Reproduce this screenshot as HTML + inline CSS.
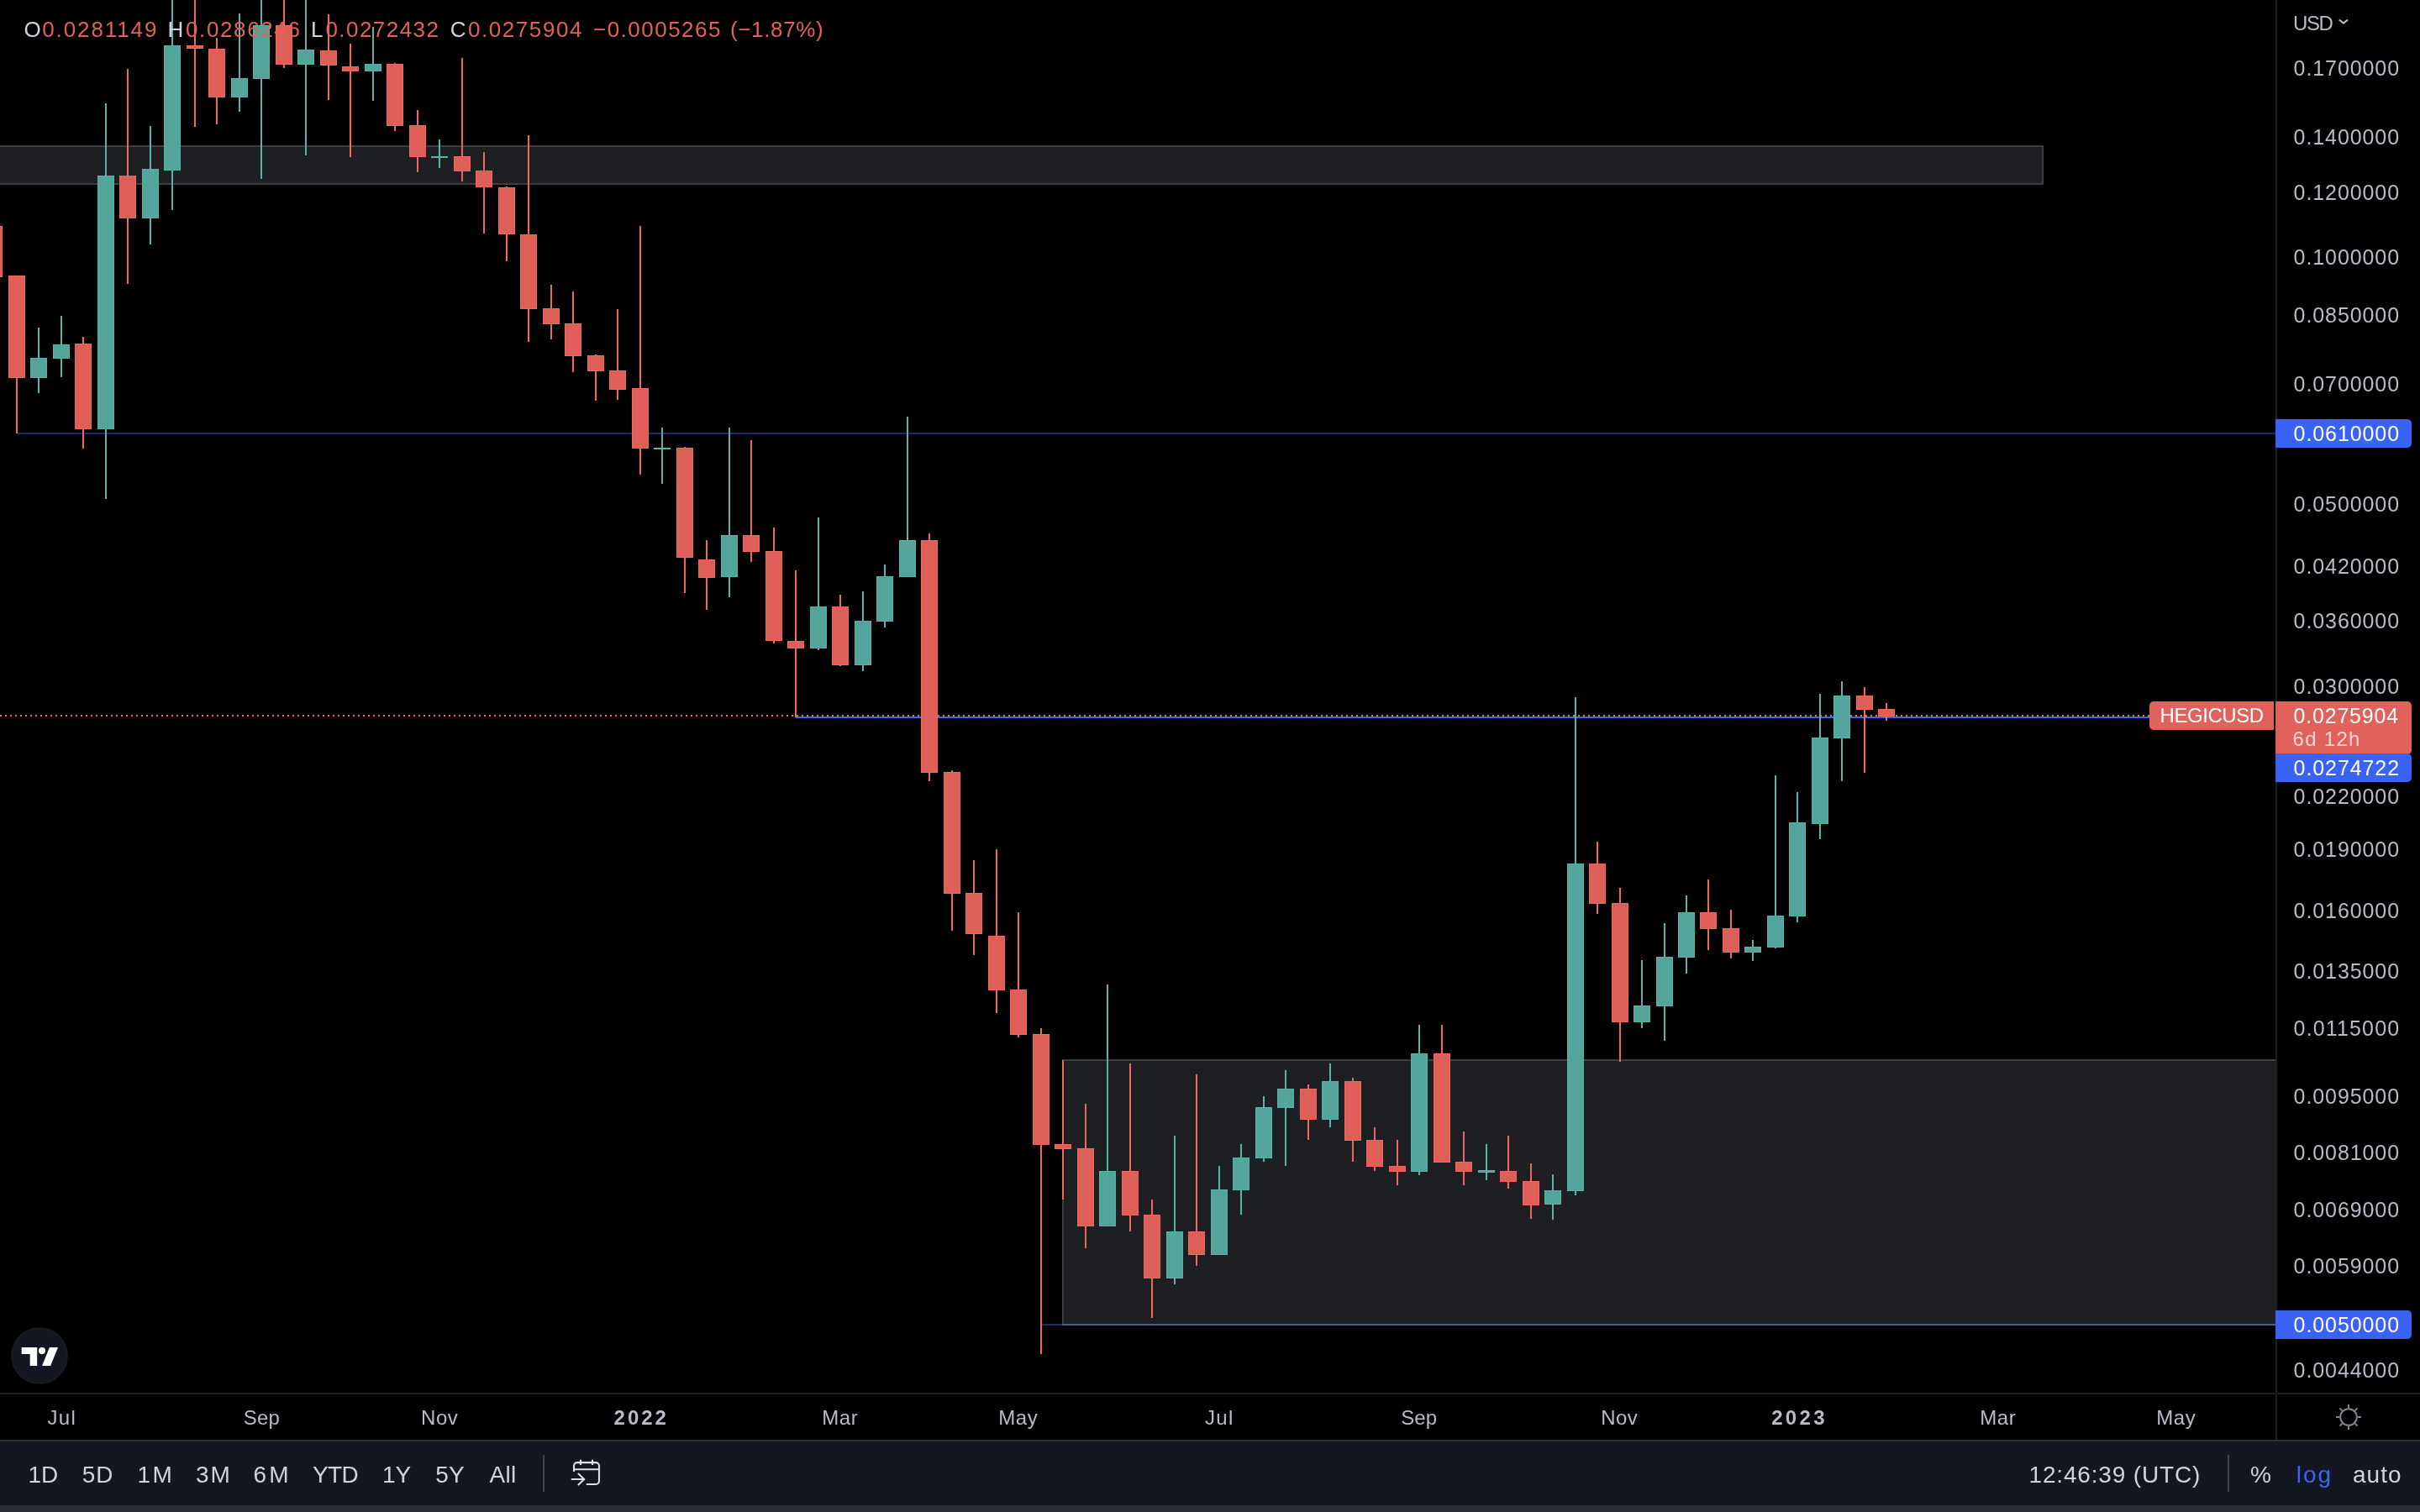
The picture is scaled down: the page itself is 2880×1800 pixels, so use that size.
<!DOCTYPE html>
<html><head><meta charset="utf-8"><title>HEGICUSD</title>
<style>
*{margin:0;padding:0;box-sizing:border-box}
html,body{width:2880px;height:1800px;background:#000;overflow:hidden;font-family:"Liberation Sans",sans-serif}
svg{position:absolute;display:block}
.t{position:absolute;white-space:nowrap;font-family:"Liberation Sans",sans-serif}
.box{position:absolute}
</style></head><body>
<svg style="left:0;top:0" width="2880" height="1800" viewBox="0 0 2880 1800" shape-rendering="crispEdges">
<rect x="0" y="0" width="2880" height="1800" fill="#000"/>
<!-- upper band -->
<rect x="0" y="173" width="2432" height="47" fill="#3d3e42"/>
<rect x="0" y="175" width="2430" height="43" fill="#1e1f22"/>
<!-- lower box -->
<rect x="1264" y="1261" width="1444" height="317" fill="#3d3e42"/>
<rect x="1266" y="1263" width="1442" height="313" fill="#1e1f22"/>
<!-- lines -->
<rect x="20" y="515" width="2688" height="2" fill="#1b2a73"/>
<rect x="1239" y="1576" width="25" height="2" fill="#1b2a73"/>
<rect x="1264" y="1576" width="1444" height="2" fill="#4f5c92"/>
<g fill="#f4685f"><rect x="0" y="851" width="2" height="2"/><rect x="6" y="851" width="2" height="2"/><rect x="12" y="851" width="2" height="2"/><rect x="18" y="851" width="2" height="2"/><rect x="24" y="851" width="2" height="2"/><rect x="30" y="851" width="2" height="2"/><rect x="36" y="851" width="2" height="2"/><rect x="42" y="851" width="2" height="2"/><rect x="48" y="851" width="2" height="2"/><rect x="54" y="851" width="2" height="2"/><rect x="60" y="851" width="2" height="2"/><rect x="66" y="851" width="2" height="2"/><rect x="72" y="851" width="2" height="2"/><rect x="78" y="851" width="2" height="2"/><rect x="84" y="851" width="2" height="2"/><rect x="90" y="851" width="2" height="2"/><rect x="96" y="851" width="2" height="2"/><rect x="102" y="851" width="2" height="2"/><rect x="108" y="851" width="2" height="2"/><rect x="114" y="851" width="2" height="2"/><rect x="120" y="851" width="2" height="2"/><rect x="126" y="851" width="2" height="2"/><rect x="132" y="851" width="2" height="2"/><rect x="138" y="851" width="2" height="2"/><rect x="144" y="851" width="2" height="2"/><rect x="150" y="851" width="2" height="2"/><rect x="156" y="851" width="2" height="2"/><rect x="162" y="851" width="2" height="2"/><rect x="168" y="851" width="2" height="2"/><rect x="174" y="851" width="2" height="2"/><rect x="180" y="851" width="2" height="2"/><rect x="186" y="851" width="2" height="2"/><rect x="192" y="851" width="2" height="2"/><rect x="198" y="851" width="2" height="2"/><rect x="204" y="851" width="2" height="2"/><rect x="210" y="851" width="2" height="2"/><rect x="216" y="851" width="2" height="2"/><rect x="222" y="851" width="2" height="2"/><rect x="228" y="851" width="2" height="2"/><rect x="234" y="851" width="2" height="2"/><rect x="240" y="851" width="2" height="2"/><rect x="246" y="851" width="2" height="2"/><rect x="252" y="851" width="2" height="2"/><rect x="258" y="851" width="2" height="2"/><rect x="264" y="851" width="2" height="2"/><rect x="270" y="851" width="2" height="2"/><rect x="276" y="851" width="2" height="2"/><rect x="282" y="851" width="2" height="2"/><rect x="288" y="851" width="2" height="2"/><rect x="294" y="851" width="2" height="2"/><rect x="300" y="851" width="2" height="2"/><rect x="306" y="851" width="2" height="2"/><rect x="312" y="851" width="2" height="2"/><rect x="318" y="851" width="2" height="2"/><rect x="324" y="851" width="2" height="2"/><rect x="330" y="851" width="2" height="2"/><rect x="336" y="851" width="2" height="2"/><rect x="342" y="851" width="2" height="2"/><rect x="348" y="851" width="2" height="2"/><rect x="354" y="851" width="2" height="2"/><rect x="360" y="851" width="2" height="2"/><rect x="366" y="851" width="2" height="2"/><rect x="372" y="851" width="2" height="2"/><rect x="378" y="851" width="2" height="2"/><rect x="384" y="851" width="2" height="2"/><rect x="390" y="851" width="2" height="2"/><rect x="396" y="851" width="2" height="2"/><rect x="402" y="851" width="2" height="2"/><rect x="408" y="851" width="2" height="2"/><rect x="414" y="851" width="2" height="2"/><rect x="420" y="851" width="2" height="2"/><rect x="426" y="851" width="2" height="2"/><rect x="432" y="851" width="2" height="2"/><rect x="438" y="851" width="2" height="2"/><rect x="444" y="851" width="2" height="2"/><rect x="450" y="851" width="2" height="2"/><rect x="456" y="851" width="2" height="2"/><rect x="462" y="851" width="2" height="2"/><rect x="468" y="851" width="2" height="2"/><rect x="474" y="851" width="2" height="2"/><rect x="480" y="851" width="2" height="2"/><rect x="486" y="851" width="2" height="2"/><rect x="492" y="851" width="2" height="2"/><rect x="498" y="851" width="2" height="2"/><rect x="504" y="851" width="2" height="2"/><rect x="510" y="851" width="2" height="2"/><rect x="516" y="851" width="2" height="2"/><rect x="522" y="851" width="2" height="2"/><rect x="528" y="851" width="2" height="2"/><rect x="534" y="851" width="2" height="2"/><rect x="540" y="851" width="2" height="2"/><rect x="546" y="851" width="2" height="2"/><rect x="552" y="851" width="2" height="2"/><rect x="558" y="851" width="2" height="2"/><rect x="564" y="851" width="2" height="2"/><rect x="570" y="851" width="2" height="2"/><rect x="576" y="851" width="2" height="2"/><rect x="582" y="851" width="2" height="2"/><rect x="588" y="851" width="2" height="2"/><rect x="594" y="851" width="2" height="2"/><rect x="600" y="851" width="2" height="2"/><rect x="606" y="851" width="2" height="2"/><rect x="612" y="851" width="2" height="2"/><rect x="618" y="851" width="2" height="2"/><rect x="624" y="851" width="2" height="2"/><rect x="630" y="851" width="2" height="2"/><rect x="636" y="851" width="2" height="2"/><rect x="642" y="851" width="2" height="2"/><rect x="648" y="851" width="2" height="2"/><rect x="654" y="851" width="2" height="2"/><rect x="660" y="851" width="2" height="2"/><rect x="666" y="851" width="2" height="2"/><rect x="672" y="851" width="2" height="2"/><rect x="678" y="851" width="2" height="2"/><rect x="684" y="851" width="2" height="2"/><rect x="690" y="851" width="2" height="2"/><rect x="696" y="851" width="2" height="2"/><rect x="702" y="851" width="2" height="2"/><rect x="708" y="851" width="2" height="2"/><rect x="714" y="851" width="2" height="2"/><rect x="720" y="851" width="2" height="2"/><rect x="726" y="851" width="2" height="2"/><rect x="732" y="851" width="2" height="2"/><rect x="738" y="851" width="2" height="2"/><rect x="744" y="851" width="2" height="2"/><rect x="750" y="851" width="2" height="2"/><rect x="756" y="851" width="2" height="2"/><rect x="762" y="851" width="2" height="2"/><rect x="768" y="851" width="2" height="2"/><rect x="774" y="851" width="2" height="2"/><rect x="780" y="851" width="2" height="2"/><rect x="786" y="851" width="2" height="2"/><rect x="792" y="851" width="2" height="2"/><rect x="798" y="851" width="2" height="2"/><rect x="804" y="851" width="2" height="2"/><rect x="810" y="851" width="2" height="2"/><rect x="816" y="851" width="2" height="2"/><rect x="822" y="851" width="2" height="2"/><rect x="828" y="851" width="2" height="2"/><rect x="834" y="851" width="2" height="2"/><rect x="840" y="851" width="2" height="2"/><rect x="846" y="851" width="2" height="2"/><rect x="852" y="851" width="2" height="2"/><rect x="858" y="851" width="2" height="2"/><rect x="864" y="851" width="2" height="2"/><rect x="870" y="851" width="2" height="2"/><rect x="876" y="851" width="2" height="2"/><rect x="882" y="851" width="2" height="2"/><rect x="888" y="851" width="2" height="2"/><rect x="894" y="851" width="2" height="2"/><rect x="900" y="851" width="2" height="2"/><rect x="906" y="851" width="2" height="2"/><rect x="912" y="851" width="2" height="2"/><rect x="918" y="851" width="2" height="2"/><rect x="924" y="851" width="2" height="2"/><rect x="930" y="851" width="2" height="2"/><rect x="936" y="851" width="2" height="2"/><rect x="942" y="851" width="2" height="2"/><rect x="948" y="851" width="2" height="2"/><rect x="954" y="851" width="2" height="2"/><rect x="960" y="851" width="2" height="2"/><rect x="966" y="851" width="2" height="2"/><rect x="972" y="851" width="2" height="2"/><rect x="978" y="851" width="2" height="2"/><rect x="984" y="851" width="2" height="2"/><rect x="990" y="851" width="2" height="2"/><rect x="996" y="851" width="2" height="2"/><rect x="1002" y="851" width="2" height="2"/><rect x="1008" y="851" width="2" height="2"/><rect x="1014" y="851" width="2" height="2"/><rect x="1020" y="851" width="2" height="2"/><rect x="1026" y="851" width="2" height="2"/><rect x="1032" y="851" width="2" height="2"/><rect x="1038" y="851" width="2" height="2"/><rect x="1044" y="851" width="2" height="2"/><rect x="1050" y="851" width="2" height="2"/><rect x="1056" y="851" width="2" height="2"/><rect x="1062" y="851" width="2" height="2"/><rect x="1068" y="851" width="2" height="2"/><rect x="1074" y="851" width="2" height="2"/><rect x="1080" y="851" width="2" height="2"/><rect x="1086" y="851" width="2" height="2"/><rect x="1092" y="851" width="2" height="2"/><rect x="1098" y="851" width="2" height="2"/><rect x="1104" y="851" width="2" height="2"/><rect x="1110" y="851" width="2" height="2"/><rect x="1116" y="851" width="2" height="2"/><rect x="1122" y="851" width="2" height="2"/><rect x="1128" y="851" width="2" height="2"/><rect x="1134" y="851" width="2" height="2"/><rect x="1140" y="851" width="2" height="2"/><rect x="1146" y="851" width="2" height="2"/><rect x="1152" y="851" width="2" height="2"/><rect x="1158" y="851" width="2" height="2"/><rect x="1164" y="851" width="2" height="2"/><rect x="1170" y="851" width="2" height="2"/><rect x="1176" y="851" width="2" height="2"/><rect x="1182" y="851" width="2" height="2"/><rect x="1188" y="851" width="2" height="2"/><rect x="1194" y="851" width="2" height="2"/><rect x="1200" y="851" width="2" height="2"/><rect x="1206" y="851" width="2" height="2"/><rect x="1212" y="851" width="2" height="2"/><rect x="1218" y="851" width="2" height="2"/><rect x="1224" y="851" width="2" height="2"/><rect x="1230" y="851" width="2" height="2"/><rect x="1236" y="851" width="2" height="2"/><rect x="1242" y="851" width="2" height="2"/><rect x="1248" y="851" width="2" height="2"/><rect x="1254" y="851" width="2" height="2"/><rect x="1260" y="851" width="2" height="2"/><rect x="1266" y="851" width="2" height="2"/><rect x="1272" y="851" width="2" height="2"/><rect x="1278" y="851" width="2" height="2"/><rect x="1284" y="851" width="2" height="2"/><rect x="1290" y="851" width="2" height="2"/><rect x="1296" y="851" width="2" height="2"/><rect x="1302" y="851" width="2" height="2"/><rect x="1308" y="851" width="2" height="2"/><rect x="1314" y="851" width="2" height="2"/><rect x="1320" y="851" width="2" height="2"/><rect x="1326" y="851" width="2" height="2"/><rect x="1332" y="851" width="2" height="2"/><rect x="1338" y="851" width="2" height="2"/><rect x="1344" y="851" width="2" height="2"/><rect x="1350" y="851" width="2" height="2"/><rect x="1356" y="851" width="2" height="2"/><rect x="1362" y="851" width="2" height="2"/><rect x="1368" y="851" width="2" height="2"/><rect x="1374" y="851" width="2" height="2"/><rect x="1380" y="851" width="2" height="2"/><rect x="1386" y="851" width="2" height="2"/><rect x="1392" y="851" width="2" height="2"/><rect x="1398" y="851" width="2" height="2"/><rect x="1404" y="851" width="2" height="2"/><rect x="1410" y="851" width="2" height="2"/><rect x="1416" y="851" width="2" height="2"/><rect x="1422" y="851" width="2" height="2"/><rect x="1428" y="851" width="2" height="2"/><rect x="1434" y="851" width="2" height="2"/><rect x="1440" y="851" width="2" height="2"/><rect x="1446" y="851" width="2" height="2"/><rect x="1452" y="851" width="2" height="2"/><rect x="1458" y="851" width="2" height="2"/><rect x="1464" y="851" width="2" height="2"/><rect x="1470" y="851" width="2" height="2"/><rect x="1476" y="851" width="2" height="2"/><rect x="1482" y="851" width="2" height="2"/><rect x="1488" y="851" width="2" height="2"/><rect x="1494" y="851" width="2" height="2"/><rect x="1500" y="851" width="2" height="2"/><rect x="1506" y="851" width="2" height="2"/><rect x="1512" y="851" width="2" height="2"/><rect x="1518" y="851" width="2" height="2"/><rect x="1524" y="851" width="2" height="2"/><rect x="1530" y="851" width="2" height="2"/><rect x="1536" y="851" width="2" height="2"/><rect x="1542" y="851" width="2" height="2"/><rect x="1548" y="851" width="2" height="2"/><rect x="1554" y="851" width="2" height="2"/><rect x="1560" y="851" width="2" height="2"/><rect x="1566" y="851" width="2" height="2"/><rect x="1572" y="851" width="2" height="2"/><rect x="1578" y="851" width="2" height="2"/><rect x="1584" y="851" width="2" height="2"/><rect x="1590" y="851" width="2" height="2"/><rect x="1596" y="851" width="2" height="2"/><rect x="1602" y="851" width="2" height="2"/><rect x="1608" y="851" width="2" height="2"/><rect x="1614" y="851" width="2" height="2"/><rect x="1620" y="851" width="2" height="2"/><rect x="1626" y="851" width="2" height="2"/><rect x="1632" y="851" width="2" height="2"/><rect x="1638" y="851" width="2" height="2"/><rect x="1644" y="851" width="2" height="2"/><rect x="1650" y="851" width="2" height="2"/><rect x="1656" y="851" width="2" height="2"/><rect x="1662" y="851" width="2" height="2"/><rect x="1668" y="851" width="2" height="2"/><rect x="1674" y="851" width="2" height="2"/><rect x="1680" y="851" width="2" height="2"/><rect x="1686" y="851" width="2" height="2"/><rect x="1692" y="851" width="2" height="2"/><rect x="1698" y="851" width="2" height="2"/><rect x="1704" y="851" width="2" height="2"/><rect x="1710" y="851" width="2" height="2"/><rect x="1716" y="851" width="2" height="2"/><rect x="1722" y="851" width="2" height="2"/><rect x="1728" y="851" width="2" height="2"/><rect x="1734" y="851" width="2" height="2"/><rect x="1740" y="851" width="2" height="2"/><rect x="1746" y="851" width="2" height="2"/><rect x="1752" y="851" width="2" height="2"/><rect x="1758" y="851" width="2" height="2"/><rect x="1764" y="851" width="2" height="2"/><rect x="1770" y="851" width="2" height="2"/><rect x="1776" y="851" width="2" height="2"/><rect x="1782" y="851" width="2" height="2"/><rect x="1788" y="851" width="2" height="2"/><rect x="1794" y="851" width="2" height="2"/><rect x="1800" y="851" width="2" height="2"/><rect x="1806" y="851" width="2" height="2"/><rect x="1812" y="851" width="2" height="2"/><rect x="1818" y="851" width="2" height="2"/><rect x="1824" y="851" width="2" height="2"/><rect x="1830" y="851" width="2" height="2"/><rect x="1836" y="851" width="2" height="2"/><rect x="1842" y="851" width="2" height="2"/><rect x="1848" y="851" width="2" height="2"/><rect x="1854" y="851" width="2" height="2"/><rect x="1860" y="851" width="2" height="2"/><rect x="1866" y="851" width="2" height="2"/><rect x="1872" y="851" width="2" height="2"/><rect x="1878" y="851" width="2" height="2"/><rect x="1884" y="851" width="2" height="2"/><rect x="1890" y="851" width="2" height="2"/><rect x="1896" y="851" width="2" height="2"/><rect x="1902" y="851" width="2" height="2"/><rect x="1908" y="851" width="2" height="2"/><rect x="1914" y="851" width="2" height="2"/><rect x="1920" y="851" width="2" height="2"/><rect x="1926" y="851" width="2" height="2"/><rect x="1932" y="851" width="2" height="2"/><rect x="1938" y="851" width="2" height="2"/><rect x="1944" y="851" width="2" height="2"/><rect x="1950" y="851" width="2" height="2"/><rect x="1956" y="851" width="2" height="2"/><rect x="1962" y="851" width="2" height="2"/><rect x="1968" y="851" width="2" height="2"/><rect x="1974" y="851" width="2" height="2"/><rect x="1980" y="851" width="2" height="2"/><rect x="1986" y="851" width="2" height="2"/><rect x="1992" y="851" width="2" height="2"/><rect x="1998" y="851" width="2" height="2"/><rect x="2004" y="851" width="2" height="2"/><rect x="2010" y="851" width="2" height="2"/><rect x="2016" y="851" width="2" height="2"/><rect x="2022" y="851" width="2" height="2"/><rect x="2028" y="851" width="2" height="2"/><rect x="2034" y="851" width="2" height="2"/><rect x="2040" y="851" width="2" height="2"/><rect x="2046" y="851" width="2" height="2"/><rect x="2052" y="851" width="2" height="2"/><rect x="2058" y="851" width="2" height="2"/><rect x="2064" y="851" width="2" height="2"/><rect x="2070" y="851" width="2" height="2"/><rect x="2076" y="851" width="2" height="2"/><rect x="2082" y="851" width="2" height="2"/><rect x="2088" y="851" width="2" height="2"/><rect x="2094" y="851" width="2" height="2"/><rect x="2100" y="851" width="2" height="2"/><rect x="2106" y="851" width="2" height="2"/><rect x="2112" y="851" width="2" height="2"/><rect x="2118" y="851" width="2" height="2"/><rect x="2124" y="851" width="2" height="2"/><rect x="2130" y="851" width="2" height="2"/><rect x="2136" y="851" width="2" height="2"/><rect x="2142" y="851" width="2" height="2"/><rect x="2148" y="851" width="2" height="2"/><rect x="2154" y="851" width="2" height="2"/><rect x="2160" y="851" width="2" height="2"/><rect x="2166" y="851" width="2" height="2"/><rect x="2172" y="851" width="2" height="2"/><rect x="2178" y="851" width="2" height="2"/><rect x="2184" y="851" width="2" height="2"/><rect x="2190" y="851" width="2" height="2"/><rect x="2196" y="851" width="2" height="2"/><rect x="2202" y="851" width="2" height="2"/><rect x="2208" y="851" width="2" height="2"/><rect x="2214" y="851" width="2" height="2"/><rect x="2220" y="851" width="2" height="2"/><rect x="2226" y="851" width="2" height="2"/><rect x="2232" y="851" width="2" height="2"/><rect x="2238" y="851" width="2" height="2"/><rect x="2244" y="851" width="2" height="2"/><rect x="2250" y="851" width="2" height="2"/><rect x="2256" y="851" width="2" height="2"/><rect x="2262" y="851" width="2" height="2"/><rect x="2268" y="851" width="2" height="2"/><rect x="2274" y="851" width="2" height="2"/><rect x="2280" y="851" width="2" height="2"/><rect x="2286" y="851" width="2" height="2"/><rect x="2292" y="851" width="2" height="2"/><rect x="2298" y="851" width="2" height="2"/><rect x="2304" y="851" width="2" height="2"/><rect x="2310" y="851" width="2" height="2"/><rect x="2316" y="851" width="2" height="2"/><rect x="2322" y="851" width="2" height="2"/><rect x="2328" y="851" width="2" height="2"/><rect x="2334" y="851" width="2" height="2"/><rect x="2340" y="851" width="2" height="2"/><rect x="2346" y="851" width="2" height="2"/><rect x="2352" y="851" width="2" height="2"/><rect x="2358" y="851" width="2" height="2"/><rect x="2364" y="851" width="2" height="2"/><rect x="2370" y="851" width="2" height="2"/><rect x="2376" y="851" width="2" height="2"/><rect x="2382" y="851" width="2" height="2"/><rect x="2388" y="851" width="2" height="2"/><rect x="2394" y="851" width="2" height="2"/><rect x="2400" y="851" width="2" height="2"/><rect x="2406" y="851" width="2" height="2"/><rect x="2412" y="851" width="2" height="2"/><rect x="2418" y="851" width="2" height="2"/><rect x="2424" y="851" width="2" height="2"/><rect x="2430" y="851" width="2" height="2"/><rect x="2436" y="851" width="2" height="2"/><rect x="2442" y="851" width="2" height="2"/><rect x="2448" y="851" width="2" height="2"/><rect x="2454" y="851" width="2" height="2"/><rect x="2460" y="851" width="2" height="2"/><rect x="2466" y="851" width="2" height="2"/><rect x="2472" y="851" width="2" height="2"/><rect x="2478" y="851" width="2" height="2"/><rect x="2484" y="851" width="2" height="2"/><rect x="2490" y="851" width="2" height="2"/><rect x="2496" y="851" width="2" height="2"/><rect x="2502" y="851" width="2" height="2"/><rect x="2508" y="851" width="2" height="2"/><rect x="2514" y="851" width="2" height="2"/><rect x="2520" y="851" width="2" height="2"/><rect x="2526" y="851" width="2" height="2"/><rect x="2532" y="851" width="2" height="2"/><rect x="2538" y="851" width="2" height="2"/><rect x="2544" y="851" width="2" height="2"/><rect x="2550" y="851" width="2" height="2"/><rect x="2556" y="851" width="2" height="2"/></g>
<rect x="947" y="853" width="1611" height="2" fill="#3c63fa"/>
<rect x="-8" y="269" width="2" height="61" fill="#f0675e"/>
<rect x="-17" y="269" width="20" height="61" fill="#f0675e"/>
<rect x="-16" y="270" width="18" height="59" fill="#de5f57"/>
<rect x="19" y="328" width="2" height="188" fill="#f0675e"/>
<rect x="10" y="328" width="20" height="122" fill="#f0675e"/>
<rect x="11" y="329" width="18" height="120" fill="#de5f57"/>
<rect x="45" y="390" width="2" height="78" fill="#5ab3a8"/>
<rect x="36" y="426" width="20" height="24" fill="#5ab3a8"/>
<rect x="37" y="427" width="18" height="22" fill="#53a59b"/>
<rect x="72" y="376" width="2" height="73" fill="#5ab3a8"/>
<rect x="63" y="410" width="20" height="17" fill="#5ab3a8"/>
<rect x="64" y="411" width="18" height="15" fill="#53a59b"/>
<rect x="98" y="401" width="2" height="133" fill="#f0675e"/>
<rect x="89" y="409" width="20" height="102" fill="#f0675e"/>
<rect x="90" y="410" width="18" height="100" fill="#de5f57"/>
<rect x="125" y="123" width="2" height="471" fill="#5ab3a8"/>
<rect x="116" y="209" width="20" height="302" fill="#5ab3a8"/>
<rect x="117" y="210" width="18" height="300" fill="#53a59b"/>
<rect x="151" y="82" width="2" height="256" fill="#f0675e"/>
<rect x="142" y="209" width="20" height="51" fill="#f0675e"/>
<rect x="143" y="210" width="18" height="49" fill="#de5f57"/>
<rect x="178" y="150" width="2" height="141" fill="#5ab3a8"/>
<rect x="169" y="201" width="20" height="59" fill="#5ab3a8"/>
<rect x="170" y="202" width="18" height="57" fill="#53a59b"/>
<rect x="204" y="-5" width="2" height="255" fill="#5ab3a8"/>
<rect x="195" y="54" width="20" height="149" fill="#5ab3a8"/>
<rect x="196" y="55" width="18" height="147" fill="#53a59b"/>
<rect x="231" y="-5" width="2" height="156" fill="#f0675e"/>
<rect x="222" y="54" width="20" height="4" fill="#f0675e"/>
<rect x="223" y="55" width="18" height="2" fill="#de5f57"/>
<rect x="257" y="45" width="2" height="103" fill="#f0675e"/>
<rect x="248" y="58" width="20" height="58" fill="#f0675e"/>
<rect x="249" y="59" width="18" height="56" fill="#de5f57"/>
<rect x="284" y="16" width="2" height="117" fill="#5ab3a8"/>
<rect x="275" y="93" width="20" height="23" fill="#5ab3a8"/>
<rect x="276" y="94" width="18" height="21" fill="#53a59b"/>
<rect x="310" y="-5" width="2" height="218" fill="#5ab3a8"/>
<rect x="301" y="30" width="20" height="64" fill="#5ab3a8"/>
<rect x="302" y="31" width="18" height="62" fill="#53a59b"/>
<rect x="337" y="-5" width="2" height="86" fill="#f0675e"/>
<rect x="328" y="30" width="20" height="47" fill="#f0675e"/>
<rect x="329" y="31" width="18" height="45" fill="#de5f57"/>
<rect x="363" y="-5" width="2" height="190" fill="#5ab3a8"/>
<rect x="354" y="59" width="20" height="18" fill="#5ab3a8"/>
<rect x="355" y="60" width="18" height="16" fill="#53a59b"/>
<rect x="390" y="17" width="2" height="102" fill="#f0675e"/>
<rect x="381" y="60" width="20" height="18" fill="#f0675e"/>
<rect x="382" y="61" width="18" height="16" fill="#de5f57"/>
<rect x="416" y="52" width="2" height="135" fill="#f0675e"/>
<rect x="407" y="79" width="20" height="6" fill="#f0675e"/>
<rect x="408" y="80" width="18" height="4" fill="#de5f57"/>
<rect x="443" y="32" width="2" height="88" fill="#5ab3a8"/>
<rect x="434" y="76" width="20" height="9" fill="#5ab3a8"/>
<rect x="435" y="77" width="18" height="7" fill="#53a59b"/>
<rect x="469" y="75" width="2" height="81" fill="#f0675e"/>
<rect x="460" y="76" width="20" height="74" fill="#f0675e"/>
<rect x="461" y="77" width="18" height="72" fill="#de5f57"/>
<rect x="496" y="131" width="2" height="74" fill="#f0675e"/>
<rect x="487" y="149" width="20" height="38" fill="#f0675e"/>
<rect x="488" y="150" width="18" height="36" fill="#de5f57"/>
<rect x="522" y="166" width="2" height="34" fill="#5ab3a8"/>
<rect x="513" y="186" width="20" height="2" fill="#5ab3a8"/>
<rect x="549" y="69" width="2" height="147" fill="#f0675e"/>
<rect x="540" y="186" width="20" height="18" fill="#f0675e"/>
<rect x="541" y="187" width="18" height="16" fill="#de5f57"/>
<rect x="575" y="181" width="2" height="97" fill="#f0675e"/>
<rect x="566" y="203" width="20" height="20" fill="#f0675e"/>
<rect x="567" y="204" width="18" height="18" fill="#de5f57"/>
<rect x="602" y="222" width="2" height="89" fill="#f0675e"/>
<rect x="593" y="223" width="20" height="56" fill="#f0675e"/>
<rect x="594" y="224" width="18" height="54" fill="#de5f57"/>
<rect x="628" y="161" width="2" height="246" fill="#f0675e"/>
<rect x="619" y="279" width="20" height="89" fill="#f0675e"/>
<rect x="620" y="280" width="18" height="87" fill="#de5f57"/>
<rect x="655" y="339" width="2" height="65" fill="#f0675e"/>
<rect x="646" y="367" width="20" height="19" fill="#f0675e"/>
<rect x="647" y="368" width="18" height="17" fill="#de5f57"/>
<rect x="681" y="347" width="2" height="96" fill="#f0675e"/>
<rect x="672" y="385" width="20" height="39" fill="#f0675e"/>
<rect x="673" y="386" width="18" height="37" fill="#de5f57"/>
<rect x="708" y="422" width="2" height="55" fill="#f0675e"/>
<rect x="699" y="423" width="20" height="19" fill="#f0675e"/>
<rect x="700" y="424" width="18" height="17" fill="#de5f57"/>
<rect x="734" y="368" width="2" height="108" fill="#f0675e"/>
<rect x="725" y="441" width="20" height="23" fill="#f0675e"/>
<rect x="726" y="442" width="18" height="21" fill="#de5f57"/>
<rect x="761" y="269" width="2" height="296" fill="#f0675e"/>
<rect x="752" y="462" width="20" height="72" fill="#f0675e"/>
<rect x="753" y="463" width="18" height="70" fill="#de5f57"/>
<rect x="787" y="509" width="2" height="67" fill="#5ab3a8"/>
<rect x="778" y="533" width="20" height="2" fill="#5ab3a8"/>
<rect x="814" y="532" width="2" height="174" fill="#f0675e"/>
<rect x="805" y="533" width="20" height="131" fill="#f0675e"/>
<rect x="806" y="534" width="18" height="129" fill="#de5f57"/>
<rect x="840" y="643" width="2" height="83" fill="#f0675e"/>
<rect x="831" y="666" width="20" height="22" fill="#f0675e"/>
<rect x="832" y="667" width="18" height="20" fill="#de5f57"/>
<rect x="867" y="509" width="2" height="202" fill="#5ab3a8"/>
<rect x="858" y="637" width="20" height="50" fill="#5ab3a8"/>
<rect x="859" y="638" width="18" height="48" fill="#53a59b"/>
<rect x="893" y="524" width="2" height="145" fill="#f0675e"/>
<rect x="884" y="637" width="20" height="20" fill="#f0675e"/>
<rect x="885" y="638" width="18" height="18" fill="#de5f57"/>
<rect x="920" y="628" width="2" height="138" fill="#f0675e"/>
<rect x="911" y="656" width="20" height="107" fill="#f0675e"/>
<rect x="912" y="657" width="18" height="105" fill="#de5f57"/>
<rect x="946" y="679" width="2" height="175" fill="#f0675e"/>
<rect x="937" y="763" width="20" height="9" fill="#f0675e"/>
<rect x="938" y="764" width="18" height="7" fill="#de5f57"/>
<rect x="973" y="616" width="2" height="158" fill="#5ab3a8"/>
<rect x="964" y="722" width="20" height="50" fill="#5ab3a8"/>
<rect x="965" y="723" width="18" height="48" fill="#53a59b"/>
<rect x="999" y="708" width="2" height="85" fill="#f0675e"/>
<rect x="990" y="722" width="20" height="70" fill="#f0675e"/>
<rect x="991" y="723" width="18" height="68" fill="#de5f57"/>
<rect x="1026" y="704" width="2" height="95" fill="#5ab3a8"/>
<rect x="1017" y="739" width="20" height="53" fill="#5ab3a8"/>
<rect x="1018" y="740" width="18" height="51" fill="#53a59b"/>
<rect x="1052" y="672" width="2" height="75" fill="#5ab3a8"/>
<rect x="1043" y="686" width="20" height="54" fill="#5ab3a8"/>
<rect x="1044" y="687" width="18" height="52" fill="#53a59b"/>
<rect x="1079" y="496" width="2" height="191" fill="#5ab3a8"/>
<rect x="1070" y="643" width="20" height="44" fill="#5ab3a8"/>
<rect x="1071" y="644" width="18" height="42" fill="#53a59b"/>
<rect x="1105" y="635" width="2" height="295" fill="#f0675e"/>
<rect x="1096" y="643" width="20" height="277" fill="#f0675e"/>
<rect x="1097" y="644" width="18" height="275" fill="#de5f57"/>
<rect x="1132" y="917" width="2" height="191" fill="#f0675e"/>
<rect x="1123" y="919" width="20" height="145" fill="#f0675e"/>
<rect x="1124" y="920" width="18" height="143" fill="#de5f57"/>
<rect x="1158" y="1024" width="2" height="113" fill="#f0675e"/>
<rect x="1149" y="1063" width="20" height="49" fill="#f0675e"/>
<rect x="1150" y="1064" width="18" height="47" fill="#de5f57"/>
<rect x="1185" y="1011" width="2" height="195" fill="#f0675e"/>
<rect x="1176" y="1114" width="20" height="65" fill="#f0675e"/>
<rect x="1177" y="1115" width="18" height="63" fill="#de5f57"/>
<rect x="1211" y="1086" width="2" height="149" fill="#f0675e"/>
<rect x="1202" y="1178" width="20" height="54" fill="#f0675e"/>
<rect x="1203" y="1179" width="18" height="52" fill="#de5f57"/>
<rect x="1238" y="1224" width="2" height="388" fill="#f0675e"/>
<rect x="1229" y="1231" width="20" height="132" fill="#f0675e"/>
<rect x="1230" y="1232" width="18" height="130" fill="#de5f57"/>
<rect x="1264" y="1262" width="2" height="166" fill="#f0675e"/>
<rect x="1255" y="1362" width="20" height="6" fill="#f0675e"/>
<rect x="1256" y="1363" width="18" height="4" fill="#de5f57"/>
<rect x="1291" y="1314" width="2" height="172" fill="#f0675e"/>
<rect x="1282" y="1367" width="20" height="93" fill="#f0675e"/>
<rect x="1283" y="1368" width="18" height="91" fill="#de5f57"/>
<rect x="1317" y="1172" width="2" height="288" fill="#5ab3a8"/>
<rect x="1308" y="1394" width="20" height="66" fill="#5ab3a8"/>
<rect x="1309" y="1395" width="18" height="64" fill="#53a59b"/>
<rect x="1344" y="1266" width="2" height="200" fill="#f0675e"/>
<rect x="1335" y="1394" width="20" height="53" fill="#f0675e"/>
<rect x="1336" y="1395" width="18" height="51" fill="#de5f57"/>
<rect x="1370" y="1428" width="2" height="141" fill="#f0675e"/>
<rect x="1361" y="1446" width="20" height="76" fill="#f0675e"/>
<rect x="1362" y="1447" width="18" height="74" fill="#de5f57"/>
<rect x="1397" y="1352" width="2" height="177" fill="#5ab3a8"/>
<rect x="1388" y="1466" width="20" height="56" fill="#5ab3a8"/>
<rect x="1389" y="1467" width="18" height="54" fill="#53a59b"/>
<rect x="1423" y="1279" width="2" height="228" fill="#f0675e"/>
<rect x="1414" y="1466" width="20" height="28" fill="#f0675e"/>
<rect x="1415" y="1467" width="18" height="26" fill="#de5f57"/>
<rect x="1450" y="1388" width="2" height="106" fill="#5ab3a8"/>
<rect x="1441" y="1416" width="20" height="78" fill="#5ab3a8"/>
<rect x="1442" y="1417" width="18" height="76" fill="#53a59b"/>
<rect x="1476" y="1362" width="2" height="84" fill="#5ab3a8"/>
<rect x="1467" y="1378" width="20" height="39" fill="#5ab3a8"/>
<rect x="1468" y="1379" width="18" height="37" fill="#53a59b"/>
<rect x="1503" y="1305" width="2" height="78" fill="#5ab3a8"/>
<rect x="1494" y="1318" width="20" height="61" fill="#5ab3a8"/>
<rect x="1495" y="1319" width="18" height="59" fill="#53a59b"/>
<rect x="1529" y="1274" width="2" height="114" fill="#5ab3a8"/>
<rect x="1520" y="1296" width="20" height="23" fill="#5ab3a8"/>
<rect x="1521" y="1297" width="18" height="21" fill="#53a59b"/>
<rect x="1556" y="1291" width="2" height="66" fill="#f0675e"/>
<rect x="1547" y="1296" width="20" height="37" fill="#f0675e"/>
<rect x="1548" y="1297" width="18" height="35" fill="#de5f57"/>
<rect x="1582" y="1266" width="2" height="76" fill="#5ab3a8"/>
<rect x="1573" y="1287" width="20" height="46" fill="#5ab3a8"/>
<rect x="1574" y="1288" width="18" height="44" fill="#53a59b"/>
<rect x="1609" y="1283" width="2" height="100" fill="#f0675e"/>
<rect x="1600" y="1287" width="20" height="71" fill="#f0675e"/>
<rect x="1601" y="1288" width="18" height="69" fill="#de5f57"/>
<rect x="1635" y="1342" width="2" height="52" fill="#f0675e"/>
<rect x="1626" y="1357" width="20" height="32" fill="#f0675e"/>
<rect x="1627" y="1358" width="18" height="30" fill="#de5f57"/>
<rect x="1662" y="1357" width="2" height="54" fill="#f0675e"/>
<rect x="1653" y="1388" width="20" height="7" fill="#f0675e"/>
<rect x="1654" y="1389" width="18" height="5" fill="#de5f57"/>
<rect x="1688" y="1220" width="2" height="179" fill="#5ab3a8"/>
<rect x="1679" y="1254" width="20" height="141" fill="#5ab3a8"/>
<rect x="1680" y="1255" width="18" height="139" fill="#53a59b"/>
<rect x="1715" y="1220" width="2" height="164" fill="#f0675e"/>
<rect x="1706" y="1254" width="20" height="130" fill="#f0675e"/>
<rect x="1707" y="1255" width="18" height="128" fill="#de5f57"/>
<rect x="1741" y="1347" width="2" height="64" fill="#f0675e"/>
<rect x="1732" y="1383" width="20" height="12" fill="#f0675e"/>
<rect x="1733" y="1384" width="18" height="10" fill="#de5f57"/>
<rect x="1768" y="1362" width="2" height="43" fill="#5ab3a8"/>
<rect x="1759" y="1393" width="20" height="3" fill="#5ab3a8"/>
<rect x="1760" y="1394" width="18" height="1" fill="#53a59b"/>
<rect x="1794" y="1352" width="2" height="63" fill="#f0675e"/>
<rect x="1785" y="1394" width="20" height="13" fill="#f0675e"/>
<rect x="1786" y="1395" width="18" height="11" fill="#de5f57"/>
<rect x="1821" y="1385" width="2" height="66" fill="#f0675e"/>
<rect x="1812" y="1406" width="20" height="29" fill="#f0675e"/>
<rect x="1813" y="1407" width="18" height="27" fill="#de5f57"/>
<rect x="1847" y="1398" width="2" height="54" fill="#5ab3a8"/>
<rect x="1838" y="1417" width="20" height="17" fill="#5ab3a8"/>
<rect x="1839" y="1418" width="18" height="15" fill="#53a59b"/>
<rect x="1874" y="830" width="2" height="593" fill="#5ab3a8"/>
<rect x="1865" y="1028" width="20" height="390" fill="#5ab3a8"/>
<rect x="1866" y="1029" width="18" height="388" fill="#53a59b"/>
<rect x="1900" y="1002" width="2" height="86" fill="#f0675e"/>
<rect x="1891" y="1028" width="20" height="48" fill="#f0675e"/>
<rect x="1892" y="1029" width="18" height="46" fill="#de5f57"/>
<rect x="1927" y="1057" width="2" height="207" fill="#f0675e"/>
<rect x="1918" y="1075" width="20" height="142" fill="#f0675e"/>
<rect x="1919" y="1076" width="18" height="140" fill="#de5f57"/>
<rect x="1953" y="1143" width="2" height="81" fill="#5ab3a8"/>
<rect x="1944" y="1197" width="20" height="20" fill="#5ab3a8"/>
<rect x="1945" y="1198" width="18" height="18" fill="#53a59b"/>
<rect x="1980" y="1099" width="2" height="140" fill="#5ab3a8"/>
<rect x="1971" y="1139" width="20" height="59" fill="#5ab3a8"/>
<rect x="1972" y="1140" width="18" height="57" fill="#53a59b"/>
<rect x="2006" y="1066" width="2" height="93" fill="#5ab3a8"/>
<rect x="1997" y="1086" width="20" height="54" fill="#5ab3a8"/>
<rect x="1998" y="1087" width="18" height="52" fill="#53a59b"/>
<rect x="2032" y="1047" width="2" height="84" fill="#f0675e"/>
<rect x="2023" y="1086" width="20" height="20" fill="#f0675e"/>
<rect x="2024" y="1087" width="18" height="18" fill="#de5f57"/>
<rect x="2059" y="1083" width="2" height="58" fill="#f0675e"/>
<rect x="2050" y="1105" width="20" height="29" fill="#f0675e"/>
<rect x="2051" y="1106" width="18" height="27" fill="#de5f57"/>
<rect x="2085" y="1119" width="2" height="25" fill="#5ab3a8"/>
<rect x="2076" y="1127" width="20" height="7" fill="#5ab3a8"/>
<rect x="2077" y="1128" width="18" height="5" fill="#53a59b"/>
<rect x="2112" y="923" width="2" height="206" fill="#5ab3a8"/>
<rect x="2103" y="1090" width="20" height="38" fill="#5ab3a8"/>
<rect x="2104" y="1091" width="18" height="36" fill="#53a59b"/>
<rect x="2138" y="943" width="2" height="155" fill="#5ab3a8"/>
<rect x="2129" y="979" width="20" height="112" fill="#5ab3a8"/>
<rect x="2130" y="980" width="18" height="110" fill="#53a59b"/>
<rect x="2165" y="826" width="2" height="173" fill="#5ab3a8"/>
<rect x="2156" y="878" width="20" height="103" fill="#5ab3a8"/>
<rect x="2157" y="879" width="18" height="101" fill="#53a59b"/>
<rect x="2191" y="811" width="2" height="119" fill="#5ab3a8"/>
<rect x="2182" y="828" width="20" height="51" fill="#5ab3a8"/>
<rect x="2183" y="829" width="18" height="49" fill="#53a59b"/>
<rect x="2218" y="818" width="2" height="102" fill="#f0675e"/>
<rect x="2209" y="828" width="20" height="17" fill="#f0675e"/>
<rect x="2210" y="829" width="18" height="15" fill="#de5f57"/>
<rect x="2244" y="837" width="2" height="21" fill="#f0675e"/>
<rect x="2235" y="844" width="20" height="9" fill="#f0675e"/>
<rect x="2236" y="845" width="18" height="7" fill="#de5f57"/>
<!-- axes -->
<rect x="2708" y="0" width="2" height="1716" fill="#1e201f"/>
<rect x="0" y="1658" width="2880" height="2" fill="#1e201f"/>
<!-- toolbar -->
<rect x="0" y="1714" width="2880" height="78" fill="#131722"/>
<rect x="0" y="1714" width="2880" height="2" fill="#2a2e39"/>
<rect x="0" y="1792" width="2880" height="8" fill="#2a2d3a"/>
<rect x="646" y="1732" width="2" height="44" fill="#434651"/>
<rect x="2651" y="1732" width="2" height="44" fill="#434651"/>
</svg>
<!-- tags -->
<div class="box" style="left:2558px;top:835px;width:148px;height:34px;background:#e0625a;border-radius:5px 0 0 5px"></div>
<div class="box" style="left:2708px;top:835px;width:162px;height:63px;background:#e0625a;border-radius:0 5px 5px 0"></div>
<div class="box" style="left:2708px;top:897px;width:162px;height:34px;background:#3a62f5;border-radius:0 5px 5px 0"></div>
<div class="box" style="left:2708px;top:499px;width:162px;height:34px;background:#3a62f5;border-radius:0 5px 5px 0"></div>
<div class="box" style="left:2708px;top:1560px;width:162px;height:34px;background:#3a62f5;border-radius:0 5px 5px 0"></div>
<div style="position:absolute;left:0;top:0;width:2880px;height:1800px;will-change:transform">
<span class="t" style="left:2729.60px;top:65.84px;font-size:25px;line-height:30px;letter-spacing:0.916px;color:#b9bcc7">0.1700000</span>
<span class="t" style="left:2729.60px;top:148.22px;font-size:25px;line-height:30px;letter-spacing:0.916px;color:#b9bcc7">0.1400000</span>
<span class="t" style="left:2729.60px;top:213.62px;font-size:25px;line-height:30px;letter-spacing:0.916px;color:#b9bcc7">0.1200000</span>
<span class="t" style="left:2729.60px;top:290.98px;font-size:25px;line-height:30px;letter-spacing:0.916px;color:#b9bcc7">0.1000000</span>
<span class="t" style="left:2729.60px;top:359.94px;font-size:25px;line-height:30px;letter-spacing:0.916px;color:#b9bcc7">0.0850000</span>
<span class="t" style="left:2729.60px;top:442.32px;font-size:25px;line-height:30px;letter-spacing:0.916px;color:#b9bcc7">0.0700000</span>
<span class="t" style="left:2729.60px;top:585.09px;font-size:25px;line-height:30px;letter-spacing:0.916px;color:#b9bcc7">0.0500000</span>
<span class="t" style="left:2729.60px;top:659.06px;font-size:25px;line-height:30px;letter-spacing:0.916px;color:#b9bcc7">0.0420000</span>
<span class="t" style="left:2729.60px;top:724.47px;font-size:25px;line-height:30px;letter-spacing:0.916px;color:#b9bcc7">0.0360000</span>
<span class="t" style="left:2729.60px;top:801.83px;font-size:25px;line-height:30px;letter-spacing:0.916px;color:#b9bcc7">0.0300000</span>
<span class="t" style="left:2729.60px;top:933.43px;font-size:25px;line-height:30px;letter-spacing:0.916px;color:#b9bcc7">0.0220000</span>
<span class="t" style="left:2729.60px;top:995.63px;font-size:25px;line-height:30px;letter-spacing:0.916px;color:#b9bcc7">0.0190000</span>
<span class="t" style="left:2729.60px;top:1068.55px;font-size:25px;line-height:30px;letter-spacing:0.916px;color:#b9bcc7">0.0160000</span>
<span class="t" style="left:2729.60px;top:1140.64px;font-size:25px;line-height:30px;letter-spacing:0.916px;color:#b9bcc7">0.0135000</span>
<span class="t" style="left:2729.60px;top:1208.67px;font-size:25px;line-height:30px;letter-spacing:1.148px;color:#b9bcc7">0.0115000</span>
<span class="t" style="left:2729.60px;top:1289.73px;font-size:25px;line-height:30px;letter-spacing:0.916px;color:#b9bcc7">0.0095000</span>
<span class="t" style="left:2729.60px;top:1357.38px;font-size:25px;line-height:30px;letter-spacing:0.916px;color:#b9bcc7">0.0081000</span>
<span class="t" style="left:2729.60px;top:1425.41px;font-size:25px;line-height:30px;letter-spacing:0.916px;color:#b9bcc7">0.0069000</span>
<span class="t" style="left:2729.60px;top:1491.84px;font-size:25px;line-height:30px;letter-spacing:0.916px;color:#b9bcc7">0.0059000</span>
<span class="t" style="left:2729.60px;top:1616.31px;font-size:25px;line-height:30px;letter-spacing:0.916px;color:#b9bcc7">0.0044000</span>
<span class="t" style="left:2729.60px;top:836.64px;font-size:25px;line-height:30px;letter-spacing:0.791px;color:#ffffff">0.0275904</span>
<span class="t" style="left:2728.60px;top:864.68px;font-size:24px;line-height:30px;letter-spacing:1.268px;color:#f7d6d3">6d 12h</span>
<span class="t" style="left:2729.60px;top:898.64px;font-size:25px;line-height:30px;letter-spacing:0.916px;color:#ffffff">0.0274722</span>
<span class="t" style="left:2729.60px;top:500.71px;font-size:25px;line-height:30px;letter-spacing:0.916px;color:#ffffff">0.0610000</span>
<span class="t" style="left:2729.60px;top:1562.07px;font-size:25px;line-height:30px;letter-spacing:0.916px;color:#ffffff">0.0050000</span>
<span class="t" style="left:2570.60px;top:836.68px;font-size:24px;line-height:30px;letter-spacing:-0.464px;color:#ffffff">HEGICUSD</span>
<span class="t" style="left:2728.90px;top:12.88px;font-size:24px;line-height:30px;letter-spacing:-1.320px;color:#b9bcc7">USD</span>
<span class="t" style="left:28.50px;top:19.69px;font-size:26px;line-height:30px;letter-spacing:0.000px;color:#d1d4dc">O</span>
<span class="t" style="left:50.20px;top:19.69px;font-size:26px;line-height:30px;letter-spacing:1.911px;color:#e0625a">0.0281149</span>
<span class="t" style="left:199.40px;top:19.69px;font-size:26px;line-height:30px;letter-spacing:0.000px;color:#d1d4dc">H</span>
<span class="t" style="left:221.00px;top:19.69px;font-size:26px;line-height:30px;letter-spacing:1.620px;color:#e0625a">0.0286246</span>
<span class="t" style="left:370.00px;top:19.69px;font-size:26px;line-height:30px;letter-spacing:0.000px;color:#d1d4dc">L</span>
<span class="t" style="left:387.40px;top:19.69px;font-size:26px;line-height:30px;letter-spacing:1.457px;color:#e0625a">0.0272432</span>
<span class="t" style="left:535.80px;top:19.69px;font-size:26px;line-height:30px;letter-spacing:0.000px;color:#d1d4dc">C</span>
<span class="t" style="left:556.90px;top:19.69px;font-size:26px;line-height:30px;letter-spacing:1.582px;color:#e0625a">0.0275904</span>
<span class="t" style="left:706.00px;top:19.69px;font-size:26px;line-height:30px;letter-spacing:1.486px;color:#e0625a">−0.0005265</span>
<span class="t" style="left:869.00px;top:19.69px;font-size:26px;line-height:30px;letter-spacing:0.634px;color:#e0625a">(−1.87%)</span>
<span class="t" style="left:56.50px;top:1672.68px;font-size:24px;line-height:30px;letter-spacing:1.326px;color:#b9bcc7">Jul</span>
<span class="t" style="left:289.80px;top:1672.68px;font-size:24px;line-height:30px;letter-spacing:0.122px;color:#b9bcc7">Sep</span>
<span class="t" style="left:501.10px;top:1672.68px;font-size:24px;line-height:30px;letter-spacing:0.460px;color:#b9bcc7">Nov</span>
<span class="t" style="left:730.60px;top:1672.68px;font-size:24px;line-height:30px;letter-spacing:2.986px;color:#b9bcc7;font-weight:700">2022</span>
<span class="t" style="left:978.30px;top:1672.68px;font-size:24px;line-height:30px;letter-spacing:0.530px;color:#b9bcc7">Mar</span>
<span class="t" style="left:1188.25px;top:1672.68px;font-size:24px;line-height:30px;letter-spacing:0.580px;color:#b9bcc7">May</span>
<span class="t" style="left:1434.00px;top:1672.68px;font-size:24px;line-height:30px;letter-spacing:1.326px;color:#b9bcc7">Jul</span>
<span class="t" style="left:1667.20px;top:1672.68px;font-size:24px;line-height:30px;letter-spacing:0.122px;color:#b9bcc7">Sep</span>
<span class="t" style="left:1905.20px;top:1672.68px;font-size:24px;line-height:30px;letter-spacing:0.460px;color:#b9bcc7">Nov</span>
<span class="t" style="left:2108.20px;top:1672.68px;font-size:24px;line-height:30px;letter-spacing:3.319px;color:#b9bcc7;font-weight:700">2023</span>
<span class="t" style="left:2356.30px;top:1672.68px;font-size:24px;line-height:30px;letter-spacing:0.530px;color:#b9bcc7">Mar</span>
<span class="t" style="left:2566.25px;top:1672.68px;font-size:24px;line-height:30px;letter-spacing:0.580px;color:#b9bcc7">May</span>
<span class="t" style="left:33.60px;top:1735.90px;font-size:28px;line-height:40px;letter-spacing:-0.272px;color:#d1d4dc">1D</span>
<span class="t" style="left:97.80px;top:1735.90px;font-size:28px;line-height:40px;letter-spacing:0.928px;color:#d1d4dc">5D</span>
<span class="t" style="left:163.50px;top:1735.90px;font-size:28px;line-height:40px;letter-spacing:2.528px;color:#d1d4dc">1M</span>
<span class="t" style="left:233.00px;top:1735.90px;font-size:28px;line-height:40px;letter-spacing:2.028px;color:#d1d4dc">3M</span>
<span class="t" style="left:301.40px;top:1735.90px;font-size:28px;line-height:40px;letter-spacing:3.328px;color:#d1d4dc">6M</span>
<span class="t" style="left:372.00px;top:1735.90px;font-size:28px;line-height:40px;letter-spacing:-0.590px;color:#d1d4dc">YTD</span>
<span class="t" style="left:455.00px;top:1735.90px;font-size:28px;line-height:40px;letter-spacing:0.028px;color:#d1d4dc">1Y</span>
<span class="t" style="left:518.30px;top:1735.90px;font-size:28px;line-height:40px;letter-spacing:0.128px;color:#d1d4dc">5Y</span>
<span class="t" style="left:582.40px;top:1735.90px;font-size:28px;line-height:40px;letter-spacing:0.352px;color:#d1d4dc">All</span>
<span class="t" style="left:2414.50px;top:1735.90px;font-size:28px;line-height:40px;letter-spacing:0.835px;color:#d1d4dc">12:46:39 (UTC)</span>
<span class="t" style="left:2678.00px;top:1735.90px;font-size:28px;line-height:40px;letter-spacing:0.000px;color:#d1d4dc">%</span>
<span class="t" style="left:2732.80px;top:1735.90px;font-size:28px;line-height:40px;letter-spacing:1.954px;color:#3d64f5">log</span>
<span class="t" style="left:2800.00px;top:1735.90px;font-size:28px;line-height:40px;letter-spacing:1.025px;color:#d1d4dc">auto</span>
</div>
<!-- chevron -->
<svg style="left:2780px;top:18px" width="18" height="14" viewBox="2780 18 18 14"><path d="M2783.8 23.4 L2788.9 27.6 L2794 23.4" fill="none" stroke="#b9bcc7" stroke-width="2"/></svg>
<!-- gear -->
<svg style="left:2775px;top:1667px" width="40" height="40" viewBox="-20 -20 40 40"><g fill="none" stroke="#82858f" stroke-width="2"><circle cx="0" cy="0" r="9.8"/><path d="M0 -10.8V-15M0 10.8V15M-10.8 0H-15M10.8 0H15M7.64 7.64L10.6 10.6M-7.64 7.64L-10.6 10.6M7.64 -7.64L10.6 -10.6M-7.64 -7.64L-10.6 -10.6"/></g></svg>
<!-- logo -->
<svg style="left:10px;top:1577px" width="74" height="74" viewBox="10 1577 74 74"><circle cx="47" cy="1614" r="32.9" fill="#131722" stroke="#1c1c1e" stroke-width="1.8"/><g fill="#fff"><path d="M25.7 1604H44.2V1626H35.7V1612.1H25.7z"/><circle cx="50" cy="1608.1" r="4.05"/><path d="M58.9 1604H69L60.1 1626H50z"/></g></svg>
<!-- calendar -->
<svg style="left:676px;top:1734px" width="42" height="38" viewBox="676 1734 42 38"><g fill="none" stroke="#dcdfe7" stroke-width="2.1"><path d="M683 1752V1745.1a4 4 0 0 1 4-4H709a4 4 0 0 1 4 4V1763a4 4 0 0 1-4 4H697.8"/><path d="M683 1749.2H713M691 1737.8V1744M705 1737.8V1744M679.8 1761H695M687.9 1754L695.2 1761L687.9 1768"/></g></svg>
</body></html>
